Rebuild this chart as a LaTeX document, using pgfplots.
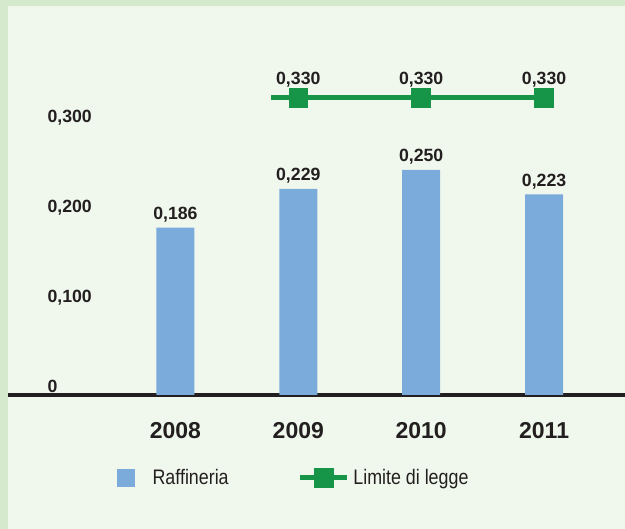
\documentclass[border=0pt]{standalone}
\usepackage{pgfplots}
\pgfplotsset{compat=1.18}
\usepackage{fontspec}
\setmainfont{Liberation Sans}
\newfontfamily\condfont[FakeStretch=0.85]{Liberation Sans}
\definecolor{outerbg}{RGB}{213,234,205}
\definecolor{innerbg}{RGB}{240,248,237}
\definecolor{barblue}{RGB}{122,171,219}
\definecolor{limgreen}{RGB}{22,148,72}
\definecolor{txt}{RGB}{35,31,32}
\newcommand{\vfont}{\fontsize{17.7}{20}\selectfont\bfseries}
\begin{document}
\begin{tikzpicture}[x=1pt,y=1pt]
\fill[outerbg] (-8,-134) rectangle (617,395);
\fill[innerbg] (0,-134) rectangle (617,389);
\begin{axis}[
  at={(0pt,0pt)}, anchor=south west,
  scale only axis, width=617pt, height=389pt,
  xmin=2006.6379, xmax=2011.6583, ymin=0, ymax=0.43222,
  /pgf/number format/assume math mode=true,
  axis x line=bottom, axis y line=left,
  x axis line style={-, line width=4pt, color=txt},
  y axis line style={draw=none},
  major tick length=0pt,
  xtick={2008,2009,2010,2011},
  xticklabels={2008,2009,2010,2011},
  xticklabel style={anchor=base, yshift=-44pt, font=\fontsize{23}{26}\selectfont\bfseries, text=txt},
  ytick={0,0.1,0.2,0.3},
  yticklabels={0,{0,100},{0,200},{0,300}},
  yticklabel style={anchor=base west, xshift=36pt, yshift=2pt, font=\vfont, text=txt},
  clip=false,
  legend columns=2,
  legend style={at={(0.17666,-0.2121)}, anchor=west, draw=none, fill=none, inner sep=0pt,
    font=\condfont\fontsize{21}{24}\selectfont, text=txt,
    /tikz/every even column/.append style={column sep=67pt}},
]
\addplot[ybar, bar width=38pt, fill=barblue, draw=none, forget plot,
  nodes near coords={\pgfmathprintnumber[fixed,fixed zerofill,precision=3,use comma]{\pgfplotspointmeta}},
  every node near coord/.append style={font=\vfont, text=txt, anchor=base, yshift=8pt}]
  coordinates {(2008,0.186) (2009,0.229) (2010,0.250) (2011,0.223)};
\addplot[limgreen, line width=5pt, forget plot] coordinates {(2008.78,0.33) (2011,0.33)};
\addplot[only marks, mark=square*, mark size=9.25pt, forget plot,
  mark options={fill=limgreen, draw=limgreen, line width=0pt},
  nodes near coords={\pgfmathprintnumber[fixed,fixed zerofill,precision=3,use comma]{\pgfplotspointmeta}},
  every node near coord/.append style={font=\vfont, text=txt, anchor=base, yshift=13pt}]
  coordinates {(2009,0.33) (2010,0.33) (2011,0.33)};
\addlegendimage{legend image code/.code={\fill[barblue] (0pt,-8.5pt) rectangle (17pt,8.5pt); \path (33pt,0pt);}}
\addlegendentry{Raffineria}
\addlegendimage{legend image code/.code={\draw[limgreen, line width=5pt] (0pt,0pt) -- (47pt,0pt); \fill[limgreen] (14pt,-9.5pt) rectangle (33pt,9.5pt); \path (51pt,0pt);}}
\addlegendentry{Limite di legge}
\end{axis}
\pgfresetboundingbox
\path[use as bounding box] (-8,-134) rectangle (617,395);
\end{tikzpicture}
\end{document}
